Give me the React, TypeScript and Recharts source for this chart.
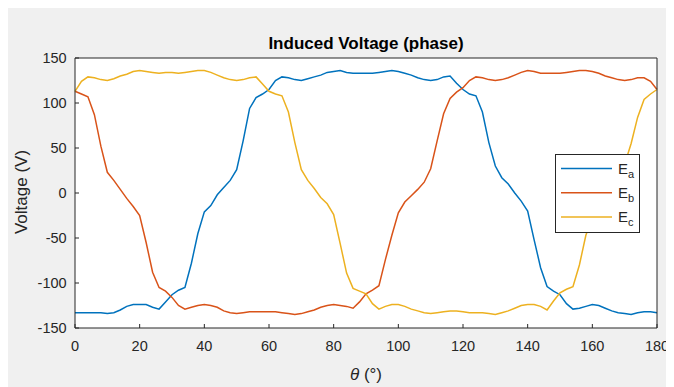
import { CartesianGrid, Legend, Line, LineChart, XAxis, YAxis } from 'recharts';

// rotor angle in degrees, sampled every 2°
const theta = Array.from({ length: 91 }, (_, i) => i * 2);

// phase EMFs in volts
const ea = [
  -133, -133, -133, -133, -133, -134, -133, -130, -126, -124,
  -124, -124, -127, -129, -121, -113, -108, -105, -78, -45,
  -21, -14, -2, 6, 14, 26, 58, 94, 106, 110,
  115, 125, 129, 128, 126, 125, 127, 129, 131, 134,
  135, 136, 134, 133, 133, 133, 133, 134, 135, 136,
  135, 133, 131, 128, 126, 125, 126, 129, 130, 122,
  115, 110, 108, 90, 56, 30, 17, 10, 0, -9,
  -20, -52, -83, -104, -109, -113, -123, -129, -128, -126,
  -124, -125, -128, -131, -133, -134, -135, -133, -132, -132,
  -133,
];
const eb = [
  113, 110, 107, 87, 52, 23, 14, 4, -6, -15,
  -25, -55, -88, -105, -109, -116, -125, -129, -127, -125,
  -124, -125, -127, -131, -133, -134, -133, -132, -132, -132,
  -132, -132, -133, -134, -135, -134, -132, -130, -127, -125,
  -124, -125, -126, -128, -121, -112, -108, -103, -74, -47,
  -22, -10, -3, 4, 12, 27, 58, 88, 105, 112,
  117, 125, 129, 128, 126, 125, 126, 128, 131, 134,
  136, 135, 133, 133, 133, 133, 134, 135, 136, 136,
  135, 133, 130, 128, 126, 125, 126, 128, 128, 124,
  115,
];
const ec = [
  113, 124, 129, 128, 126, 125, 127, 130, 132, 135,
  136, 135, 134, 133, 134, 134, 133, 134, 135, 136,
  136, 134, 131, 128, 126, 125, 126, 128, 129, 121,
  113, 110, 108, 90, 56, 26, 14, 5, -5, -12,
  -24, -56, -89, -106, -109, -112, -123, -129, -126, -124,
  -124, -126, -129, -131, -133, -134, -133, -132, -131, -131,
  -132, -133, -133, -133, -134, -135, -133, -131, -128, -125,
  -124, -124, -126, -130, -120, -111, -107, -104, -80, -47,
  -27, -14, -6, 4, 14, 32, 55, 84, 104, 110,
  115,
];

const xTicks = [0, 20, 40, 60, 80, 100, 120, 140, 160, 180];
const yTicks = [-150, -100, -50, 0, 50, 100, 150];

const data = theta.map((t, i) => ({ theta: t, Ea: ea[i], Eb: eb[i], Ec: ec[i] }));

const AXIS = '#262626';
const tickStyle = { fill: AXIS, fontSize: 14.5 };

const renderTitle = (props: any) => {
  const vb = props.viewBox || { x: 67, y: 49, width: 582, height: 1 };
  const cx = vb.x + vb.width / 2;
  return (
    <text x={cx} y={vb.y + vb.height - 14.5} textAnchor="middle" dominantBaseline="central"
      fontSize={17} fontWeight="bold" fill="#000">
      Induced Voltage (phase)
    </text>
  );
};

const renderXLabel = (props: any) => {
  const vb = props.viewBox || { x: 67, y: 320, width: 582 };
  const cx = vb.x + vb.width / 2;
  return (
    <text x={cx} y={vb.y + 46} textAnchor="middle" dominantBaseline="central" fontSize={17} fill={AXIS}>
      <tspan fontStyle="italic">θ</tspan> (°)
    </text>
  );
};

const renderYLabel = (props: any) => {
  const vb = props.viewBox || { y: 50, height: 270 };
  const cx = 13.5;
  const cy = vb.y + vb.height / 2 - 1;
  return (
    <text x={cx} y={cy} transform={`rotate(-90 ${cx} ${cy})`} textAnchor="middle"
      dominantBaseline="central" fontSize={17} fill={AXIS}>
      Voltage (V)
    </text>
  );
};

function PhaseLegend({ payload }: any) {
  return (
    <svg width={85} height={79} style={{ display: 'block' }}>
      <rect x={0.5} y={0.5} width={84} height={78} fill="#fff" stroke={AXIS} />
      {(payload || []).map((p: any, i: number) => {
        const y = 14.5 + i * 24.2;
        return (
          <g key={p.value}>
            <line x1={6} x2={57} y1={y} y2={y} stroke={p.color} strokeWidth={1.5} />
            <text x={63} y={y + 5} fontSize={15} fill={AXIS}>
              E<tspan fontSize={11} dy={4}>{String(p.value).slice(1)}</tspan>
            </text>
          </g>
        );
      })}
    </svg>
  );
}

export default function App() {
  return (
    <div style={{ width: 666, height: 379, background: '#f0f0f0', fontFamily: '"Liberation Sans", Arial, sans-serif' }}>
      <LineChart width={666} height={379} data={data} margin={{ top: 49, right: 16, bottom: 0, left: 0 }}>
        <CartesianGrid horizontal={false} vertical={false} fill="#ffffff" />
        <XAxis dataKey="theta" type="number" domain={[0, 180]} ticks={xTicks} interval={0} height={59}
          tickSize={-4} tickMargin={17} tick={tickStyle}
          axisLine={{ stroke: AXIS }} tickLine={{ stroke: AXIS }} label={renderXLabel} />
        {/* mirrored axes close the box on top and right, ticks only */}
        <XAxis xAxisId="top" dataKey="theta" orientation="top" type="number" domain={[0, 180]} ticks={xTicks}
          interval={0} height={1} tickSize={-4} tick={false}
          axisLine={{ stroke: AXIS }} tickLine={{ stroke: AXIS }} label={renderTitle} />
        <YAxis type="number" domain={[-150, 150]} ticks={yTicks} interval={0} width={67}
          tickSize={-4} tickMargin={12.4} tick={tickStyle}
          axisLine={{ stroke: AXIS }} tickLine={{ stroke: AXIS }} label={renderYLabel} />
        <YAxis yAxisId="right" orientation="right" type="number" domain={[-150, 150]} ticks={yTicks} interval={0}
          width={1} tickSize={-4} tick={false}
          axisLine={{ stroke: AXIS }} tickLine={{ stroke: AXIS }} />
        <Legend layout="vertical" align="center" verticalAlign="middle" content={<PhaseLegend />}
          wrapperStyle={{ left: 547, top: 146, width: 85, height: 79 }} />
        <Line type="linear" dataKey="Ea" name="Ea" xAxisId="top" stroke="#0072BD" strokeWidth={1.5}
          dot={false} isAnimationActive={false} />
        <Line type="linear" dataKey="Eb" name="Eb" yAxisId="right" stroke="#D95319" strokeWidth={1.5}
          dot={false} isAnimationActive={false} />
        <Line type="linear" dataKey="Ec" name="Ec" stroke="#EDB120" strokeWidth={1.5}
          dot={false} isAnimationActive={false} />
      </LineChart>
    </div>
  );
}
